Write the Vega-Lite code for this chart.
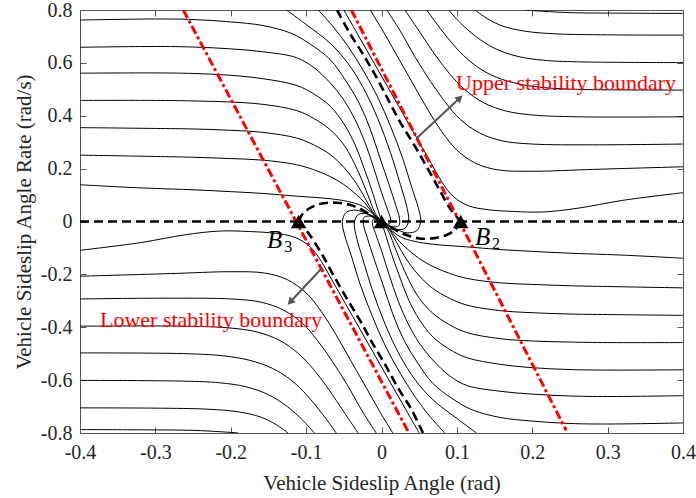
{
"$schema": "https://vega.github.io/schema/vega-lite/v6.json",
"width": 603, "height": 423,
"autosize": {"type": "none"},
"padding": {"left": 80, "top": 10, "right": 13, "bottom": 65},
"config": {"view": {"stroke": "#555", "strokeWidth": 1}, "font": "Liberation Serif"},
"datasets": {
"traj": [
{"c":"A1","o":1,"x":-0.4,"y":0.762},{"c":"A1","o":2,"x":-0.3,"y":0.766},{"c":"A1","o":3,"x":-0.25,"y":0.764},{"c":"A1","o":4,"x":-0.2,"y":0.755},{"c":"A1","o":5,"x":-0.157,"y":0.741},{"c":"A1","o":6,"x":-0.12,"y":0.712},{"c":"A1","o":7,"x":-0.095,"y":0.672},{"c":"A1","o":8,"x":-0.068,"y":0.612},{"c":"A1","o":9,"x":-0.048,"y":0.535},{"c":"A1","o":10,"x":-0.03,"y":0.45},{"c":"A1","o":11,"x":-0.015,"y":0.35},{"c":"A1","o":12,"x":-0.002,"y":0.24},{"c":"A1","o":13,"x":0.01,"y":0.14},{"c":"A1","o":14,"x":0.019,"y":0.06},{"c":"A1","o":15,"x":0.024,"y":0.01},{"c":"A1","o":16,"x":0.023,"y":-0.016},{"c":"A1","o":17,"x":0.014,"y":-0.02},{"c":"A1","o":18,"x":0.005,"y":-0.009},{"c":"A1","o":19,"x":0,"y":0},
{"c":"A2","o":1,"x":-0.4,"y":0.659},{"c":"A2","o":2,"x":-0.3,"y":0.662},{"c":"A2","o":3,"x":-0.25,"y":0.66},{"c":"A2","o":4,"x":-0.2,"y":0.653},{"c":"A2","o":5,"x":-0.157,"y":0.642},{"c":"A2","o":6,"x":-0.113,"y":0.62},{"c":"A2","o":7,"x":-0.09,"y":0.583},{"c":"A2","o":8,"x":-0.068,"y":0.524},{"c":"A2","o":9,"x":-0.05,"y":0.46},{"c":"A2","o":10,"x":-0.035,"y":0.385},{"c":"A2","o":11,"x":-0.022,"y":0.3},{"c":"A2","o":12,"x":-0.01,"y":0.2},{"c":"A2","o":13,"x":0,"y":0.11},{"c":"A2","o":14,"x":0.008,"y":0.045},{"c":"A2","o":15,"x":0.012,"y":0.01},{"c":"A2","o":16,"x":0.011,"y":-0.008},{"c":"A2","o":17,"x":0.006,"y":-0.009},{"c":"A2","o":18,"x":0,"y":0},
{"c":"A3","o":1,"x":-0.4,"y":0.561},{"c":"A3","o":2,"x":-0.3,"y":0.562},{"c":"A3","o":3,"x":-0.25,"y":0.56},{"c":"A3","o":4,"x":-0.2,"y":0.553},{"c":"A3","o":5,"x":-0.157,"y":0.54},{"c":"A3","o":6,"x":-0.113,"y":0.515},{"c":"A3","o":7,"x":-0.09,"y":0.483},{"c":"A3","o":8,"x":-0.068,"y":0.436},{"c":"A3","o":9,"x":-0.05,"y":0.37},{"c":"A3","o":10,"x":-0.035,"y":0.29},{"c":"A3","o":11,"x":-0.023,"y":0.2},{"c":"A3","o":12,"x":-0.013,"y":0.12},{"c":"A3","o":13,"x":-0.006,"y":0.055},{"c":"A3","o":14,"x":-0.002,"y":0.02},{"c":"A3","o":15,"x":0,"y":0},
{"c":"A4","o":1,"x":-0.4,"y":0.458},{"c":"A4","o":2,"x":-0.3,"y":0.458},{"c":"A4","o":3,"x":-0.25,"y":0.456},{"c":"A4","o":4,"x":-0.2,"y":0.452},{"c":"A4","o":5,"x":-0.157,"y":0.443},{"c":"A4","o":6,"x":-0.113,"y":0.42},{"c":"A4","o":7,"x":-0.09,"y":0.39},{"c":"A4","o":8,"x":-0.068,"y":0.347},{"c":"A4","o":9,"x":-0.05,"y":0.29},{"c":"A4","o":10,"x":-0.036,"y":0.22},{"c":"A4","o":11,"x":-0.025,"y":0.15},{"c":"A4","o":12,"x":-0.016,"y":0.085},{"c":"A4","o":13,"x":-0.009,"y":0.035},{"c":"A4","o":14,"x":0,"y":0},
{"c":"A5","o":1,"x":-0.4,"y":0.355},{"c":"A5","o":2,"x":-0.3,"y":0.352},{"c":"A5","o":3,"x":-0.25,"y":0.35},{"c":"A5","o":4,"x":-0.2,"y":0.345},{"c":"A5","o":5,"x":-0.157,"y":0.337},{"c":"A5","o":6,"x":-0.113,"y":0.316},{"c":"A5","o":7,"x":-0.09,"y":0.29},{"c":"A5","o":8,"x":-0.068,"y":0.253},{"c":"A5","o":9,"x":-0.05,"y":0.205},{"c":"A5","o":10,"x":-0.036,"y":0.155},{"c":"A5","o":11,"x":-0.025,"y":0.105},{"c":"A5","o":12,"x":-0.016,"y":0.058},{"c":"A5","o":13,"x":-0.008,"y":0.022},{"c":"A5","o":14,"x":0,"y":0},
{"c":"A6","o":1,"x":-0.4,"y":0.251},{"c":"A6","o":2,"x":-0.3,"y":0.246},{"c":"A6","o":3,"x":-0.25,"y":0.243},{"c":"A6","o":4,"x":-0.2,"y":0.238},{"c":"A6","o":5,"x":-0.157,"y":0.232},{"c":"A6","o":6,"x":-0.113,"y":0.215},{"c":"A6","o":7,"x":-0.09,"y":0.196},{"c":"A6","o":8,"x":-0.068,"y":0.17},{"c":"A6","o":9,"x":-0.05,"y":0.14},{"c":"A6","o":10,"x":-0.035,"y":0.106},{"c":"A6","o":11,"x":-0.022,"y":0.07},{"c":"A6","o":12,"x":-0.012,"y":0.033},{"c":"A6","o":13,"x":0,"y":0},
{"c":"A7","o":1,"x":-0.4,"y":0.139},{"c":"A7","o":2,"x":-0.334,"y":0.129},{"c":"A7","o":3,"x":-0.3,"y":0.125},{"c":"A7","o":4,"x":-0.25,"y":0.12},{"c":"A7","o":5,"x":-0.2,"y":0.113},{"c":"A7","o":6,"x":-0.157,"y":0.106},{"c":"A7","o":7,"x":-0.113,"y":0.096},{"c":"A7","o":8,"x":-0.068,"y":0.086},{"c":"A7","o":9,"x":-0.045,"y":0.076},{"c":"A7","o":10,"x":-0.025,"y":0.058},{"c":"A7","o":11,"x":-0.012,"y":0.03},{"c":"A7","o":12,"x":0,"y":0},
{"c":"T2","o":1,"x":-0.126,"y":0.8},{"c":"T2","o":2,"x":-0.1,"y":0.745},{"c":"T2","o":3,"x":-0.068,"y":0.674},{"c":"T2","o":4,"x":-0.045,"y":0.6},{"c":"T2","o":5,"x":-0.025,"y":0.51},{"c":"T2","o":6,"x":-0.005,"y":0.39},{"c":"T2","o":7,"x":0.012,"y":0.26},{"c":"T2","o":8,"x":0.025,"y":0.14},{"c":"T2","o":9,"x":0.034,"y":0.05},{"c":"T2","o":10,"x":0.036,"y":0.003},{"c":"T2","o":11,"x":0.031,"y":-0.026},{"c":"T2","o":12,"x":0.02,"y":-0.03},{"c":"T2","o":13,"x":0.008,"y":-0.015},{"c":"T2","o":14,"x":0,"y":0},
{"c":"T1","o":1,"x":-0.084,"y":0.8},{"c":"T1","o":2,"x":-0.065,"y":0.74},{"c":"T1","o":3,"x":-0.045,"y":0.665},{"c":"T1","o":4,"x":-0.025,"y":0.575},{"c":"T1","o":5,"x":-0.005,"y":0.47},{"c":"T1","o":6,"x":0.012,"y":0.36},{"c":"T1","o":7,"x":0.028,"y":0.24},{"c":"T1","o":8,"x":0.04,"y":0.13},{"c":"T1","o":9,"x":0.049,"y":0.05},{"c":"T1","o":10,"x":0.052,"y":0},{"c":"T1","o":11,"x":0.047,"y":-0.034},{"c":"T1","o":12,"x":0.034,"y":-0.043},{"c":"T1","o":13,"x":0.02,"y":-0.03},{"c":"T1","o":14,"x":0.008,"y":-0.012},{"c":"T1","o":15,"x":0,"y":0},
{"c":"R0","o":1,"x":0.19,"y":0.8},{"c":"R0","o":2,"x":0.215,"y":0.795},{"c":"R0","o":3,"x":0.25,"y":0.79},{"c":"R0","o":4,"x":0.32,"y":0.788},{"c":"R0","o":5,"x":0.4,"y":0.787},
{"c":"R1","o":1,"x":0.124,"y":0.8},{"c":"R1","o":2,"x":0.14,"y":0.768},{"c":"R1","o":3,"x":0.16,"y":0.74},{"c":"R1","o":4,"x":0.19,"y":0.72},{"c":"R1","o":5,"x":0.23,"y":0.71},{"c":"R1","o":6,"x":0.3,"y":0.706},{"c":"R1","o":7,"x":0.4,"y":0.705},
{"c":"R2","o":1,"x":0.089,"y":0.8},{"c":"R2","o":2,"x":0.105,"y":0.75},{"c":"R2","o":3,"x":0.125,"y":0.7},{"c":"R2","o":4,"x":0.15,"y":0.655},{"c":"R2","o":5,"x":0.18,"y":0.625},{"c":"R2","o":6,"x":0.215,"y":0.61},{"c":"R2","o":7,"x":0.26,"y":0.604},{"c":"R2","o":8,"x":0.4,"y":0.601},
{"c":"R3","o":1,"x":0.06,"y":0.8},{"c":"R3","o":2,"x":0.078,"y":0.73},{"c":"R3","o":3,"x":0.098,"y":0.66},{"c":"R3","o":4,"x":0.12,"y":0.6},{"c":"R3","o":5,"x":0.145,"y":0.555},{"c":"R3","o":6,"x":0.175,"y":0.525},{"c":"R3","o":7,"x":0.21,"y":0.508},{"c":"R3","o":8,"x":0.26,"y":0.5},{"c":"R3","o":9,"x":0.4,"y":0.497},
{"c":"R4","o":1,"x":0.031,"y":0.8},{"c":"R4","o":2,"x":0.05,"y":0.72},{"c":"R4","o":3,"x":0.07,"y":0.635},{"c":"R4","o":4,"x":0.09,"y":0.56},{"c":"R4","o":5,"x":0.11,"y":0.5},{"c":"R4","o":6,"x":0.135,"y":0.45},{"c":"R4","o":7,"x":0.165,"y":0.418},{"c":"R4","o":8,"x":0.2,"y":0.403},{"c":"R4","o":9,"x":0.26,"y":0.396},{"c":"R4","o":10,"x":0.4,"y":0.396},
{"c":"R5","o":1,"x":0.007,"y":0.8},{"c":"R5","o":2,"x":0.025,"y":0.72},{"c":"R5","o":3,"x":0.045,"y":0.62},{"c":"R5","o":4,"x":0.065,"y":0.53},{"c":"R5","o":5,"x":0.085,"y":0.45},{"c":"R5","o":6,"x":0.105,"y":0.385},{"c":"R5","o":7,"x":0.13,"y":0.335},{"c":"R5","o":8,"x":0.16,"y":0.305},{"c":"R5","o":9,"x":0.2,"y":0.293},{"c":"R5","o":10,"x":0.28,"y":0.29},{"c":"R5","o":11,"x":0.4,"y":0.293},
{"c":"R6","o":1,"x":-0.015,"y":0.8},{"c":"R6","o":2,"x":0,"y":0.73},{"c":"R6","o":3,"x":0.02,"y":0.63},{"c":"R6","o":4,"x":0.04,"y":0.53},{"c":"R6","o":5,"x":0.06,"y":0.43},{"c":"R6","o":6,"x":0.08,"y":0.34},{"c":"R6","o":7,"x":0.1,"y":0.27},{"c":"R6","o":8,"x":0.125,"y":0.22},{"c":"R6","o":9,"x":0.155,"y":0.195},{"c":"R6","o":10,"x":0.2,"y":0.19},{"c":"R6","o":11,"x":0.28,"y":0.197},{"c":"R6","o":12,"x":0.4,"y":0.207},
{"c":"R7","o":1,"x":-0.05,"y":0.8},{"c":"R7","o":2,"x":-0.032,"y":0.71},{"c":"R7","o":3,"x":-0.012,"y":0.61},{"c":"R7","o":4,"x":0.008,"y":0.51},{"c":"R7","o":5,"x":0.028,"y":0.41},{"c":"R7","o":6,"x":0.048,"y":0.31},{"c":"R7","o":7,"x":0.066,"y":0.22},{"c":"R7","o":8,"x":0.08,"y":0.15},{"c":"R7","o":9,"x":0.095,"y":0.095},{"c":"R7","o":10,"x":0.115,"y":0.06},{"c":"R7","o":11,"x":0.14,"y":0.045},{"c":"R7","o":12,"x":0.175,"y":0.038},{"c":"R7","o":13,"x":0.214,"y":0.036},{"c":"R7","o":14,"x":0.26,"y":0.05},{"c":"R7","o":15,"x":0.32,"y":0.08},{"c":"R7","o":16,"x":0.4,"y":0.109},
{"c":"A1m","o":1,"x":0.4,"y":-0.762},{"c":"A1m","o":2,"x":0.3,"y":-0.766},{"c":"A1m","o":3,"x":0.25,"y":-0.764},{"c":"A1m","o":4,"x":0.2,"y":-0.755},{"c":"A1m","o":5,"x":0.157,"y":-0.741},{"c":"A1m","o":6,"x":0.12,"y":-0.712},{"c":"A1m","o":7,"x":0.095,"y":-0.672},{"c":"A1m","o":8,"x":0.068,"y":-0.612},{"c":"A1m","o":9,"x":0.048,"y":-0.535},{"c":"A1m","o":10,"x":0.03,"y":-0.45},{"c":"A1m","o":11,"x":0.015,"y":-0.35},{"c":"A1m","o":12,"x":0.002,"y":-0.24},{"c":"A1m","o":13,"x":-0.01,"y":-0.14},{"c":"A1m","o":14,"x":-0.019,"y":-0.06},{"c":"A1m","o":15,"x":-0.024,"y":-0.01},{"c":"A1m","o":16,"x":-0.023,"y":0.016},{"c":"A1m","o":17,"x":-0.014,"y":0.02},{"c":"A1m","o":18,"x":-0.005,"y":0.009},{"c":"A1m","o":19,"x":0,"y":0},
{"c":"A2m","o":1,"x":0.4,"y":-0.659},{"c":"A2m","o":2,"x":0.3,"y":-0.662},{"c":"A2m","o":3,"x":0.25,"y":-0.66},{"c":"A2m","o":4,"x":0.2,"y":-0.653},{"c":"A2m","o":5,"x":0.157,"y":-0.642},{"c":"A2m","o":6,"x":0.113,"y":-0.62},{"c":"A2m","o":7,"x":0.09,"y":-0.583},{"c":"A2m","o":8,"x":0.068,"y":-0.524},{"c":"A2m","o":9,"x":0.05,"y":-0.46},{"c":"A2m","o":10,"x":0.035,"y":-0.385},{"c":"A2m","o":11,"x":0.022,"y":-0.3},{"c":"A2m","o":12,"x":0.01,"y":-0.2},{"c":"A2m","o":13,"x":0,"y":-0.11},{"c":"A2m","o":14,"x":-0.008,"y":-0.045},{"c":"A2m","o":15,"x":-0.012,"y":-0.01},{"c":"A2m","o":16,"x":-0.011,"y":0.008},{"c":"A2m","o":17,"x":-0.006,"y":0.009},{"c":"A2m","o":18,"x":0,"y":0},
{"c":"A3m","o":1,"x":0.4,"y":-0.561},{"c":"A3m","o":2,"x":0.3,"y":-0.562},{"c":"A3m","o":3,"x":0.25,"y":-0.56},{"c":"A3m","o":4,"x":0.2,"y":-0.553},{"c":"A3m","o":5,"x":0.157,"y":-0.54},{"c":"A3m","o":6,"x":0.113,"y":-0.515},{"c":"A3m","o":7,"x":0.09,"y":-0.483},{"c":"A3m","o":8,"x":0.068,"y":-0.436},{"c":"A3m","o":9,"x":0.05,"y":-0.37},{"c":"A3m","o":10,"x":0.035,"y":-0.29},{"c":"A3m","o":11,"x":0.023,"y":-0.2},{"c":"A3m","o":12,"x":0.013,"y":-0.12},{"c":"A3m","o":13,"x":0.006,"y":-0.055},{"c":"A3m","o":14,"x":0.002,"y":-0.02},{"c":"A3m","o":15,"x":0,"y":0},
{"c":"A4m","o":1,"x":0.4,"y":-0.458},{"c":"A4m","o":2,"x":0.3,"y":-0.458},{"c":"A4m","o":3,"x":0.25,"y":-0.456},{"c":"A4m","o":4,"x":0.2,"y":-0.452},{"c":"A4m","o":5,"x":0.157,"y":-0.443},{"c":"A4m","o":6,"x":0.113,"y":-0.42},{"c":"A4m","o":7,"x":0.09,"y":-0.39},{"c":"A4m","o":8,"x":0.068,"y":-0.347},{"c":"A4m","o":9,"x":0.05,"y":-0.29},{"c":"A4m","o":10,"x":0.036,"y":-0.22},{"c":"A4m","o":11,"x":0.025,"y":-0.15},{"c":"A4m","o":12,"x":0.016,"y":-0.085},{"c":"A4m","o":13,"x":0.009,"y":-0.035},{"c":"A4m","o":14,"x":0,"y":0},
{"c":"A5m","o":1,"x":0.4,"y":-0.355},{"c":"A5m","o":2,"x":0.3,"y":-0.352},{"c":"A5m","o":3,"x":0.25,"y":-0.35},{"c":"A5m","o":4,"x":0.2,"y":-0.345},{"c":"A5m","o":5,"x":0.157,"y":-0.337},{"c":"A5m","o":6,"x":0.113,"y":-0.316},{"c":"A5m","o":7,"x":0.09,"y":-0.29},{"c":"A5m","o":8,"x":0.068,"y":-0.253},{"c":"A5m","o":9,"x":0.05,"y":-0.205},{"c":"A5m","o":10,"x":0.036,"y":-0.155},{"c":"A5m","o":11,"x":0.025,"y":-0.105},{"c":"A5m","o":12,"x":0.016,"y":-0.058},{"c":"A5m","o":13,"x":0.008,"y":-0.022},{"c":"A5m","o":14,"x":0,"y":0},
{"c":"A6m","o":1,"x":0.4,"y":-0.251},{"c":"A6m","o":2,"x":0.3,"y":-0.246},{"c":"A6m","o":3,"x":0.25,"y":-0.243},{"c":"A6m","o":4,"x":0.2,"y":-0.238},{"c":"A6m","o":5,"x":0.157,"y":-0.232},{"c":"A6m","o":6,"x":0.113,"y":-0.215},{"c":"A6m","o":7,"x":0.09,"y":-0.196},{"c":"A6m","o":8,"x":0.068,"y":-0.17},{"c":"A6m","o":9,"x":0.05,"y":-0.14},{"c":"A6m","o":10,"x":0.035,"y":-0.106},{"c":"A6m","o":11,"x":0.022,"y":-0.07},{"c":"A6m","o":12,"x":0.012,"y":-0.033},{"c":"A6m","o":13,"x":0,"y":0},
{"c":"A7m","o":1,"x":0.4,"y":-0.139},{"c":"A7m","o":2,"x":0.334,"y":-0.129},{"c":"A7m","o":3,"x":0.3,"y":-0.125},{"c":"A7m","o":4,"x":0.25,"y":-0.12},{"c":"A7m","o":5,"x":0.2,"y":-0.113},{"c":"A7m","o":6,"x":0.157,"y":-0.106},{"c":"A7m","o":7,"x":0.113,"y":-0.096},{"c":"A7m","o":8,"x":0.068,"y":-0.086},{"c":"A7m","o":9,"x":0.045,"y":-0.076},{"c":"A7m","o":10,"x":0.025,"y":-0.058},{"c":"A7m","o":11,"x":0.012,"y":-0.03},{"c":"A7m","o":12,"x":0,"y":0},
{"c":"T2m","o":1,"x":0.126,"y":-0.8},{"c":"T2m","o":2,"x":0.1,"y":-0.745},{"c":"T2m","o":3,"x":0.068,"y":-0.674},{"c":"T2m","o":4,"x":0.045,"y":-0.6},{"c":"T2m","o":5,"x":0.025,"y":-0.51},{"c":"T2m","o":6,"x":0.005,"y":-0.39},{"c":"T2m","o":7,"x":-0.012,"y":-0.26},{"c":"T2m","o":8,"x":-0.025,"y":-0.14},{"c":"T2m","o":9,"x":-0.034,"y":-0.05},{"c":"T2m","o":10,"x":-0.036,"y":-0.003},{"c":"T2m","o":11,"x":-0.031,"y":0.026},{"c":"T2m","o":12,"x":-0.02,"y":0.03},{"c":"T2m","o":13,"x":-0.008,"y":0.015},{"c":"T2m","o":14,"x":0,"y":0},
{"c":"T1m","o":1,"x":0.084,"y":-0.8},{"c":"T1m","o":2,"x":0.065,"y":-0.74},{"c":"T1m","o":3,"x":0.045,"y":-0.665},{"c":"T1m","o":4,"x":0.025,"y":-0.575},{"c":"T1m","o":5,"x":0.005,"y":-0.47},{"c":"T1m","o":6,"x":-0.012,"y":-0.36},{"c":"T1m","o":7,"x":-0.028,"y":-0.24},{"c":"T1m","o":8,"x":-0.04,"y":-0.13},{"c":"T1m","o":9,"x":-0.049,"y":-0.05},{"c":"T1m","o":10,"x":-0.052,"y":0},{"c":"T1m","o":11,"x":-0.047,"y":0.034},{"c":"T1m","o":12,"x":-0.034,"y":0.043},{"c":"T1m","o":13,"x":-0.02,"y":0.03},{"c":"T1m","o":14,"x":-0.008,"y":0.012},{"c":"T1m","o":15,"x":0,"y":0},
{"c":"R0m","o":1,"x":-0.19,"y":-0.8},{"c":"R0m","o":2,"x":-0.215,"y":-0.795},{"c":"R0m","o":3,"x":-0.25,"y":-0.79},{"c":"R0m","o":4,"x":-0.32,"y":-0.788},{"c":"R0m","o":5,"x":-0.4,"y":-0.787},
{"c":"R1m","o":1,"x":-0.124,"y":-0.8},{"c":"R1m","o":2,"x":-0.14,"y":-0.768},{"c":"R1m","o":3,"x":-0.16,"y":-0.74},{"c":"R1m","o":4,"x":-0.19,"y":-0.72},{"c":"R1m","o":5,"x":-0.23,"y":-0.71},{"c":"R1m","o":6,"x":-0.3,"y":-0.706},{"c":"R1m","o":7,"x":-0.4,"y":-0.705},
{"c":"R2m","o":1,"x":-0.089,"y":-0.8},{"c":"R2m","o":2,"x":-0.105,"y":-0.75},{"c":"R2m","o":3,"x":-0.125,"y":-0.7},{"c":"R2m","o":4,"x":-0.15,"y":-0.655},{"c":"R2m","o":5,"x":-0.18,"y":-0.625},{"c":"R2m","o":6,"x":-0.215,"y":-0.61},{"c":"R2m","o":7,"x":-0.26,"y":-0.604},{"c":"R2m","o":8,"x":-0.4,"y":-0.601},
{"c":"R3m","o":1,"x":-0.06,"y":-0.8},{"c":"R3m","o":2,"x":-0.078,"y":-0.73},{"c":"R3m","o":3,"x":-0.098,"y":-0.66},{"c":"R3m","o":4,"x":-0.12,"y":-0.6},{"c":"R3m","o":5,"x":-0.145,"y":-0.555},{"c":"R3m","o":6,"x":-0.175,"y":-0.525},{"c":"R3m","o":7,"x":-0.21,"y":-0.508},{"c":"R3m","o":8,"x":-0.26,"y":-0.5},{"c":"R3m","o":9,"x":-0.4,"y":-0.497},
{"c":"R4m","o":1,"x":-0.031,"y":-0.8},{"c":"R4m","o":2,"x":-0.05,"y":-0.72},{"c":"R4m","o":3,"x":-0.07,"y":-0.635},{"c":"R4m","o":4,"x":-0.09,"y":-0.56},{"c":"R4m","o":5,"x":-0.11,"y":-0.5},{"c":"R4m","o":6,"x":-0.135,"y":-0.45},{"c":"R4m","o":7,"x":-0.165,"y":-0.418},{"c":"R4m","o":8,"x":-0.2,"y":-0.403},{"c":"R4m","o":9,"x":-0.26,"y":-0.396},{"c":"R4m","o":10,"x":-0.4,"y":-0.396},
{"c":"R5m","o":1,"x":-0.007,"y":-0.8},{"c":"R5m","o":2,"x":-0.025,"y":-0.72},{"c":"R5m","o":3,"x":-0.045,"y":-0.62},{"c":"R5m","o":4,"x":-0.065,"y":-0.53},{"c":"R5m","o":5,"x":-0.085,"y":-0.45},{"c":"R5m","o":6,"x":-0.105,"y":-0.385},{"c":"R5m","o":7,"x":-0.13,"y":-0.335},{"c":"R5m","o":8,"x":-0.16,"y":-0.305},{"c":"R5m","o":9,"x":-0.2,"y":-0.293},{"c":"R5m","o":10,"x":-0.28,"y":-0.29},{"c":"R5m","o":11,"x":-0.4,"y":-0.293},
{"c":"R6m","o":1,"x":0.015,"y":-0.8},{"c":"R6m","o":2,"x":0,"y":-0.73},{"c":"R6m","o":3,"x":-0.02,"y":-0.63},{"c":"R6m","o":4,"x":-0.04,"y":-0.53},{"c":"R6m","o":5,"x":-0.06,"y":-0.43},{"c":"R6m","o":6,"x":-0.08,"y":-0.34},{"c":"R6m","o":7,"x":-0.1,"y":-0.27},{"c":"R6m","o":8,"x":-0.125,"y":-0.22},{"c":"R6m","o":9,"x":-0.155,"y":-0.195},{"c":"R6m","o":10,"x":-0.2,"y":-0.19},{"c":"R6m","o":11,"x":-0.28,"y":-0.197},{"c":"R6m","o":12,"x":-0.4,"y":-0.207},
{"c":"R7m","o":1,"x":0.05,"y":-0.8},{"c":"R7m","o":2,"x":0.032,"y":-0.71},{"c":"R7m","o":3,"x":0.012,"y":-0.61},{"c":"R7m","o":4,"x":-0.008,"y":-0.51},{"c":"R7m","o":5,"x":-0.028,"y":-0.41},{"c":"R7m","o":6,"x":-0.048,"y":-0.31},{"c":"R7m","o":7,"x":-0.066,"y":-0.22},{"c":"R7m","o":8,"x":-0.08,"y":-0.15},{"c":"R7m","o":9,"x":-0.095,"y":-0.095},{"c":"R7m","o":10,"x":-0.115,"y":-0.06},{"c":"R7m","o":11,"x":-0.14,"y":-0.045},{"c":"R7m","o":12,"x":-0.175,"y":-0.038},{"c":"R7m","o":13,"x":-0.214,"y":-0.036},{"c":"R7m","o":14,"x":-0.26,"y":-0.05},{"c":"R7m","o":15,"x":-0.32,"y":-0.08},{"c":"R7m","o":16,"x":-0.4,"y":-0.109}
],
"sep": [
{"c":"S1","o":1,"x":-0.059,"y":0.8},{"c":"S1","o":2,"x":-0.042,"y":0.712},{"c":"S1","o":3,"x":-0.024,"y":0.63},{"c":"S1","o":4,"x":-0.006,"y":0.542},{"c":"S1","o":5,"x":0.009,"y":0.46},{"c":"S1","o":6,"x":0.0245,"y":0.377},{"c":"S1","o":7,"x":0.042,"y":0.296},{"c":"S1","o":8,"x":0.06,"y":0.207},{"c":"S1","o":9,"x":0.077,"y":0.119},{"c":"S1","o":10,"x":0.092,"y":0.045},{"c":"S1","o":11,"x":0.105,"y":0},
{"c":"S2","o":1,"x":0.055,"y":-0.8},{"c":"S2","o":2,"x":0.04,"y":-0.712},{"c":"S2","o":3,"x":0.022,"y":-0.63},{"c":"S2","o":4,"x":0.005,"y":-0.542},{"c":"S2","o":5,"x":-0.012,"y":-0.46},{"c":"S2","o":6,"x":-0.028,"y":-0.377},{"c":"S2","o":7,"x":-0.045,"y":-0.296},{"c":"S2","o":8,"x":-0.063,"y":-0.207},{"c":"S2","o":9,"x":-0.08,"y":-0.119},{"c":"S2","o":10,"x":-0.098,"y":-0.04},{"c":"S2","o":11,"x":-0.11,"y":0},
{"c":"S3","o":1,"x":-0.11,"y":0},{"c":"S3","o":2,"x":-0.104,"y":0.031},{"c":"S3","o":3,"x":-0.092,"y":0.055},{"c":"S3","o":4,"x":-0.077,"y":0.069},{"c":"S3","o":5,"x":-0.06,"y":0.071},{"c":"S3","o":6,"x":-0.042,"y":0.063},{"c":"S3","o":7,"x":-0.025,"y":0.043},{"c":"S3","o":8,"x":-0.011,"y":0.018},{"c":"S3","o":9,"x":0,"y":0},
{"c":"S4","o":1,"x":0.105,"y":0},{"c":"S4","o":2,"x":0.098,"y":-0.03},{"c":"S4","o":3,"x":0.087,"y":-0.05},{"c":"S4","o":4,"x":0.07,"y":-0.063},{"c":"S4","o":5,"x":0.05,"y":-0.064},{"c":"S4","o":6,"x":0.032,"y":-0.05},{"c":"S4","o":7,"x":0.016,"y":-0.028},{"c":"S4","o":8,"x":0.007,"y":-0.012},{"c":"S4","o":9,"x":0,"y":0},
{"c":"S5","o":1,"x":-0.4,"y":0},{"c":"S5","o":2,"x":0.4,"y":0}
],
"red": [
{"c":"U","o":1,"x":-0.04,"y":0.8},{"c":"U","o":2,"x":0.245,"y":-0.79},
{"c":"L","o":1,"x":-0.263,"y":0.8},{"c":"L","o":2,"x":0.0355,"y":-0.795}
],
"arr": [
{"c":"u","o":1,"x":0.047,"y":0.316},{"c":"u","o":2,"x":0.1039,"y":0.467},
{"c":"l","o":1,"x":-0.079,"y":-0.176},{"c":"l","o":2,"x":-0.1211,"y":-0.3045}
],
"eq": [{"x":-0.11,"y":0},{"x":0,"y":0},{"x":0.105,"y":0}],
"lab": [{"t":"Upper stability boundary","x":0.099,"y":0.497},{"t":"Lower stability boundary","x":-0.3735,"y":-0.4}],
"bl": [{"t":"B","x":0.124,"y":-0.089},{"t":"B","x":-0.152,"y":-0.1}],
"bs": [{"t":"2","x":0.1466,"y":-0.104},{"t":"3","x":-0.129,"y":-0.115}]
},
"layer": [
{"data": {"name": "traj"},
 "mark": {"type": "line", "color": "black", "strokeWidth": 1, "interpolate": "catmull-rom", "clip": true},
 "encoding": {
  "x": {"field": "x", "type": "quantitative", "scale": {"domain": [-0.4, 0.4], "nice": false, "zero": false},
        "axis": {"orient": "bottom", "values": [-0.4,-0.3,-0.2,-0.1,0,0.1,0.2,0.3,0.4], "format": ".1~f", "labelExpr": "replace(datum.label, '\u2212', '-')",
                 "domain": false, "grid": false, "offset": -6, "tickSize": 6, "tickColor": "#555", "labelPadding": 9,
                 "labelFontSize": 20, "labelColor": "#262626", "labelFont": "Liberation Serif", "labelFlush": false, "labelOverlap": false, "labelBound": false,
                 "title": "Vehicle Sideslip Angle (rad)", "titleFont": "Liberation Serif", "titleFontSize": 21, "titleFontWeight": "normal", "titleColor": "#262626", "titlePadding": 10}},
  "y": {"field": "y", "type": "quantitative", "scale": {"domain": [-0.8, 0.8], "nice": false, "zero": false},
        "axis": {"orient": "left", "values": [-0.8,-0.6,-0.4,-0.2,0,0.2,0.4,0.6,0.8], "format": ".1~f", "labelExpr": "replace(datum.label, '\u2212', '-')",
                 "domain": false, "grid": false, "offset": -6, "tickSize": 6, "tickColor": "#555", "labelPadding": 8,
                 "labelFontSize": 20, "labelColor": "#262626", "labelFont": "Liberation Serif", "labelFlush": false, "labelOverlap": false, "labelBound": false,
                 "title": "Vehicle Sideslip Angle Rate (rad/s)", "titleFont": "Liberation Serif", "titleFontSize": 21, "titleFontWeight": "normal", "titleColor": "#262626", "titlePadding": 6}},
  "detail": {"field": "c"},
  "order": {"field": "o", "type": "quantitative"}
 }},
{"data": {"name": "sep"},
 "mark": {"type": "line", "color": "black", "strokeWidth": 2.6, "strokeDash": [9, 5], "interpolate": "catmull-rom", "clip": true},
 "encoding": {
  "x": {"field": "x", "type": "quantitative", "axis": null},
  "y": {"field": "y", "type": "quantitative", "axis": null},
  "detail": {"field": "c"},
  "order": {"field": "o", "type": "quantitative"}
 }},
{"data": {"name": "red"},
 "mark": {"type": "line", "color": "#ff0000", "strokeWidth": 3, "strokeDash": [9, 3, 3, 3], "clip": true},
 "encoding": {
  "x": {"field": "x", "type": "quantitative", "axis": null},
  "y": {"field": "y", "type": "quantitative", "axis": null},
  "detail": {"field": "c"},
  "order": {"field": "o", "type": "quantitative"}
 }},
{"data": {"name": "arr"},
 "mark": {"type": "line", "color": "#555555", "strokeWidth": 2},
 "encoding": {
  "x": {"field": "x", "type": "quantitative", "axis": null},
  "y": {"field": "y", "type": "quantitative", "axis": null},
  "detail": {"field": "c"},
  "order": {"field": "o", "type": "quantitative"}
 }},
{"data": {"name": "arr"},
 "transform": [{"filter": "datum.c == 'u' && datum.o == 2"}],
 "mark": {"type": "point", "shape": "triangle-up", "filled": true, "color": "#555555", "size": 70, "angle": 47, "opacity": 1},
 "encoding": {
  "x": {"field": "x", "type": "quantitative", "axis": null},
  "y": {"field": "y", "type": "quantitative", "axis": null}
 }},
{"data": {"name": "arr"},
 "transform": [{"filter": "datum.c == 'l' && datum.o == 2"}],
 "mark": {"type": "point", "shape": "triangle-up", "filled": true, "color": "#555555", "size": 70, "angle": 223, "opacity": 1},
 "encoding": {
  "x": {"field": "x", "type": "quantitative", "axis": null},
  "y": {"field": "y", "type": "quantitative", "axis": null}
 }},
{"data": {"name": "lab"},
 "mark": {"type": "text", "color": "#ff0000", "font": "Liberation Serif", "fontSize": 22, "align": "left", "baseline": "alphabetic"},
 "encoding": {
  "x": {"field": "x", "type": "quantitative", "axis": null},
  "y": {"field": "y", "type": "quantitative", "axis": null},
  "text": {"field": "t"}
 }},
{"data": {"name": "bl"},
 "mark": {"type": "text", "color": "black", "font": "Liberation Serif", "fontStyle": "italic", "fontSize": 25, "align": "left", "baseline": "alphabetic"},
 "encoding": {
  "x": {"field": "x", "type": "quantitative", "axis": null},
  "y": {"field": "y", "type": "quantitative", "axis": null},
  "text": {"field": "t"}
 }},
{"data": {"name": "bs"},
 "mark": {"type": "text", "color": "black", "font": "Liberation Serif", "fontSize": 16, "align": "left", "baseline": "alphabetic"},
 "encoding": {
  "x": {"field": "x", "type": "quantitative", "axis": null},
  "y": {"field": "y", "type": "quantitative", "axis": null},
  "text": {"field": "t"}
 }},
{"data": {"name": "eq"},
 "mark": {"type": "point", "shape": "triangle-up", "filled": true, "color": "black", "size": 240, "opacity": 1, "strokeWidth": 0},
 "encoding": {
  "x": {"field": "x", "type": "quantitative",
        "axis": {"orient": "top", "values": [-0.4,-0.3,-0.2,-0.1,0,0.1,0.2,0.3,0.4], "labels": false, "title": null, "domain": false, "grid": false, "offset": -6, "tickSize": 6, "tickColor": "#555"}},
  "y": {"field": "y", "type": "quantitative",
        "axis": {"orient": "right", "values": [-0.8,-0.6,-0.4,-0.2,0,0.2,0.4,0.6,0.8], "labels": false, "title": null, "domain": false, "grid": false, "offset": -6, "tickSize": 6, "tickColor": "#555"}}
 }}
]
}
